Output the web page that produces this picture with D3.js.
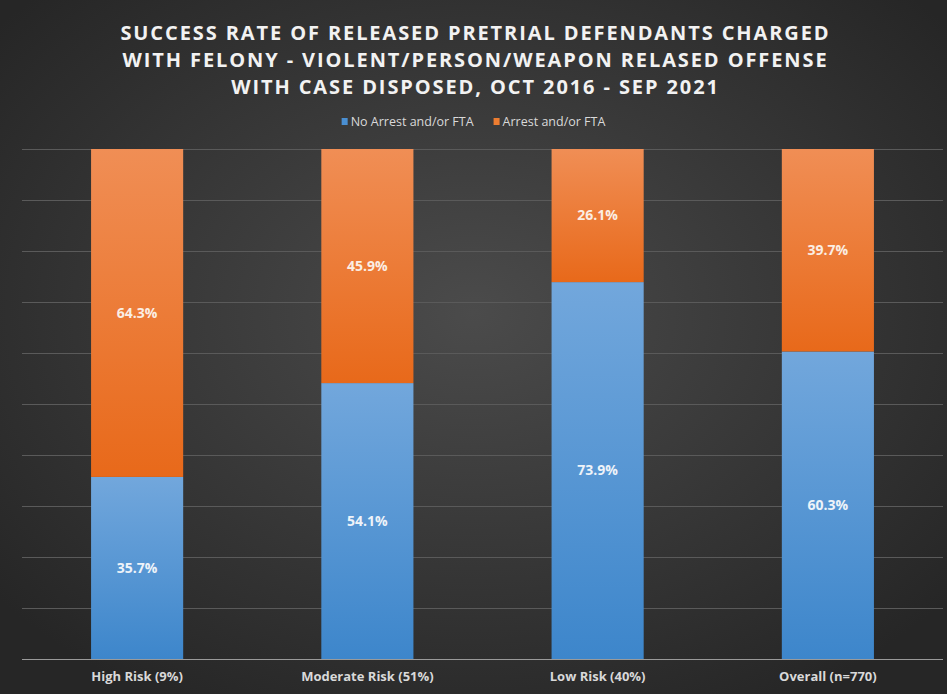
<!DOCTYPE html>
<html>
<head>
<meta charset="utf-8">
<script src="https://cdn.jsdelivr.net/npm/d3@7"></script>
<style>
  html, body { margin: 0; padding: 0; background: #333; }
  svg { display: block; }
</style>
</head>
<body>
<div id="chart"><svg></svg></div>
<script>
const width = 947;
const height = 694;

// data
const categories = ["High Risk (9%)", "Moderate Risk (51%)", "Low Risk (40%)", "Overall (n=770)"];
const noArrest = [35.7, 54.1, 73.9, 60.3];
const arrest = [64.3, 45.9, 26.1, 39.7];
const seriesNames = ["No Arrest and/or FTA", "Arrest and/or FTA"];
const yTicks = [0, 10, 20, 30, 40, 50, 60, 70, 80, 90, 100];
const titleLines = [
  "SUCCESS RATE OF RELEASED PRETRIAL DEFENDANTS CHARGED",
  "WITH FELONY - VIOLENT/PERSON/WEAPON RELASED OFFENSE",
  "WITH CASE DISPOSED, OCT 2016 - SEP 2021"
];

const margin = { top: 149, right: 4, bottom: 35, left: 22 };

const svg = d3.select("#chart svg")
    .attr("width", width)
    .attr("height", height)
    .attr("viewBox", `0 0 ${width} ${height}`);

const defs = svg.append("defs");

// background radial glow
const bg = defs.append("radialGradient")
    .attr("id", "bg")
    .attr("cx", "50%").attr("cy", "45%").attr("r", "65%");
bg.append("stop").attr("offset", "0%").attr("stop-color", "#4b4b4b");
bg.append("stop").attr("offset", "100%").attr("stop-color", "#262626");

const blueGrad = defs.append("linearGradient")
    .attr("id", "blueGrad").attr("x1", 0).attr("y1", 0).attr("x2", 0).attr("y2", 1);
blueGrad.append("stop").attr("offset", "0%").attr("stop-color", "#72a7dc");
blueGrad.append("stop").attr("offset", "100%").attr("stop-color", "#3d86cb");

const orangeGrad = defs.append("linearGradient")
    .attr("id", "orangeGrad").attr("x1", 0).attr("y1", 0).attr("x2", 0).attr("y2", 1);
orangeGrad.append("stop").attr("offset", "0%").attr("stop-color", "#f08e55");
orangeGrad.append("stop").attr("offset", "100%").attr("stop-color", "#e8691a");

svg.append("rect")
    .attr("width", width)
    .attr("height", height)
    .attr("fill", "url(#bg)");

const xScale = d3.scaleBand()
    .domain(categories)
    .range([margin.left, width - margin.right])
    .paddingInner(0.6)
    .paddingOuter(0.3);

const yScale = d3.scaleLinear()
    .domain([0, 100])
    .range([height - margin.bottom, margin.top]);

// gridlines
svg.append("g")
  .selectAll("line")
  .data(yTicks.slice(1))
  .enter()
  .append("line")
    .attr("x1", margin.left)
    .attr("x2", width - margin.right)
    .attr("y1", d => yScale(d) + 0.5)
    .attr("y2", d => yScale(d) + 0.5)
    .attr("stroke", "#5a5a5a")
    .attr("stroke-width", 1);

// stacked data
const rows = categories.map((c, i) => ({ cat: c, no: noArrest[i], yes: arrest[i] }));

// blue segments
svg.append("g")
  .selectAll("rect")
  .data(rows)
  .enter()
  .append("rect")
    .attr("x", d => xScale(d.cat))
    .attr("width", xScale.bandwidth())
    .attr("y", d => yScale(d.no))
    .attr("height", d => yScale(0) - yScale(d.no))
    .attr("fill", "url(#blueGrad)");

// orange segments
svg.append("g")
  .selectAll("rect")
  .data(rows)
  .enter()
  .append("rect")
    .attr("x", d => xScale(d.cat))
    .attr("width", xScale.bandwidth())
    .attr("y", d => yScale(d.no + d.yes))
    .attr("height", d => yScale(d.no) - yScale(d.no + d.yes))
    .attr("fill", "url(#orangeGrad)");

// value labels
const labelFont = "'Open Sans', 'DejaVu Sans', sans-serif";

svg.append("g")
  .selectAll("text")
  .data(rows)
  .enter()
  .append("text")
    .attr("x", d => xScale(d.cat) + xScale.bandwidth() / 2)
    .attr("y", d => yScale(d.no / 2))
    .attr("dy", ".35em")
    .attr("text-anchor", "middle")
    .attr("font-family", labelFont)
    .attr("font-size", "14px")
    .attr("font-weight", "bold")
    .attr("fill", "#eef3f9")
    .text(d => d.no.toFixed(1) + "%");

svg.append("g")
  .selectAll("text")
  .data(rows)
  .enter()
  .append("text")
    .attr("x", d => xScale(d.cat) + xScale.bandwidth() / 2)
    .attr("y", d => yScale(d.no + d.yes / 2))
    .attr("dy", ".35em")
    .attr("text-anchor", "middle")
    .attr("font-family", labelFont)
    .attr("font-size", "14px")
    .attr("font-weight", "bold")
    .attr("fill", "#fbeee4")
    .text(d => d.yes.toFixed(1) + "%");

// x axis
const xAxis = svg.append("g")
    .attr("transform", `translate(0, ${yScale(0)})`)
    .call(d3.axisBottom(xScale).tickSize(0).tickPadding(13));

xAxis.select(".domain")
    .attr("stroke", "#9a9a9a")
    .attr("d", `M${margin.left},0.5H${width - margin.right}`);

xAxis.selectAll("text")
    .attr("font-family", labelFont)
    .attr("font-size", "13px")
    .attr("font-weight", "bold")
    .attr("fill", "#d9d9d9");

// title
svg.append("g")
  .selectAll("text")
  .data(titleLines)
  .enter()
  .append("text")
    .attr("x", width / 2 + 2)
    .attr("y", (d, i) => 40 + i * 27)
    .attr("text-anchor", "middle")
    .attr("font-family", labelFont)
    .attr("font-size", "20px")
    .attr("font-weight", "bold")
    .attr("letter-spacing", "1.9px")
    .attr("fill", "#f2f2f2")
    .text(d => d);

// legend
const legend = svg.append("g").attr("class", "legend");
const legendColors = ["#4a8fd2", "#ed7d31"];
let lx = 0;
seriesNames.forEach((name, i) => {
  const item = legend.append("g").attr("transform", `translate(${lx},0)`);
  item.append("rect")
    .attr("x", 0)
    .attr("y", -4)
    .attr("width", 6)
    .attr("height", 7)
    .attr("fill", legendColors[i]);
  const t = item.append("text")
    .attr("x", 9)
    .attr("y", 0)
    .attr("dy", ".35em")
    .attr("font-family", labelFont)
    .attr("font-size", "12.5px")
    .attr("fill", "#d9d9d9")
    .text(name);
  lx += 9 + t.node().getComputedTextLength() + 20;
});
legend.attr("transform", `translate(${width / 2 - (lx - 20) / 2}, 122)`);
</script>
</body>
</html>
